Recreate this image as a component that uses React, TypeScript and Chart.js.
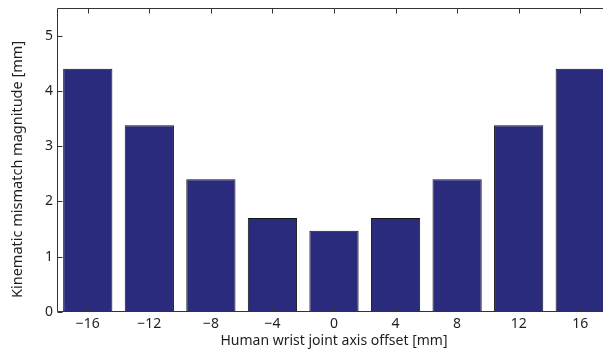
import React, { useEffect, useRef } from "react";
import { Chart, registerables } from "chart.js";

Chart.register(...registerables);

const offsets = [-16, -12, -8, -4, 0, 4, 8, 12, 16];
const mismatch = [4.4, 3.38, 2.4, 1.7, 1.47, 1.7, 2.4, 3.38, 4.4];
const xTicks = [-16, -12, -8, -4, 0, 4, 8, 12, 16];
const yTicks = [0, 1, 2, 3, 4, 5];
const xLabel = "Human wrist joint axis offset [mm]";
const yLabel = "Kinematic mismatch magnitude [mm]";

const FONT = "Noto Sans";
const AXIS_COLOR = "#333333";
const TEXT_COLOR = "#1e1e1e";

const fmt = (v: number) => (v < 0 ? "\u2212" + Math.abs(v) : String(v));

const boxPlugin = {
  id: "matlabBox",
  afterDraw(chart: any) {
    const { ctx, chartArea } = chart;
    const xs = chart.scales.x;
    const ys = chart.scales.y;
    const { left, right, top, bottom } = chartArea;
    const L = Math.round(left) + 0.5;
    const T = Math.round(top) + 0.5;
    const B = Math.round(bottom) - 0.5;
    const R = Math.round(right) + 0.5;
    ctx.save();
    ctx.strokeStyle = AXIS_COLOR;
    ctx.lineWidth = 1;
    ctx.beginPath();
    ctx.moveTo(R, T);
    ctx.lineTo(L, T);
    ctx.lineTo(L, B);
    ctx.lineTo(R, B);
    const tl = 5;
    xTicks.forEach((v) => {
      const px = Math.round(xs.getPixelForValue(v)) + 0.5;
      ctx.moveTo(px, B);
      ctx.lineTo(px, B - tl);
      ctx.moveTo(px, T);
      ctx.lineTo(px, T + tl);
    });
    yTicks.forEach((v) => {
      const py = Math.round(ys.getPixelForValue(v)) + 0.5;
      ctx.moveTo(L, py);
      ctx.lineTo(L + tl, py);
    });
    ctx.stroke();
    ctx.restore();
  },
};

export default function App() {
  const ref = useRef<HTMLCanvasElement | null>(null);

  useEffect(() => {
    if (!ref.current) return;
    document.documentElement.style.overflow = "hidden";
    document.body.style.margin = "0";
    document.body.style.overflow = "hidden";
    const chart = new Chart(ref.current, {
      type: "bar",
      data: {
        datasets: [
          {
            data: offsets.map((x, i) => ({ x, y: mismatch[i] })),
            backgroundColor: "#2b2b7d",
            borderColor: "#151515",
            borderWidth: 1,
            barPercentage: 1,
            categoryPercentage: 0.8,
          } as any,
        ],
      },
      options: {
        responsive: false,
        animation: false,
        layout: { padding: { top: 8, right: 14, left: 0, bottom: 0 } },
        plugins: { legend: { display: false }, tooltip: { enabled: false } },
        scales: {
          x: {
            type: "linear",
            min: -18,
            max: 18,
            offset: false,
            grid: { display: false, drawTicks: false },
            border: { display: false },
            afterBuildTicks: (s: any) => {
              s.ticks = xTicks.map((v) => ({ value: v }));
            },
            afterFit: (s: any) => {
              s.height = 38;
              s.paddingLeft = 0;
              s.paddingRight = 0;
            },
            ticks: {
              padding: 4,
              color: TEXT_COLOR,
              font: { family: FONT, size: 14 },
              maxRotation: 0,
              callback: (v: any) => fmt(Number(v)),
            },
            title: {
              display: true,
              text: xLabel,
              color: TEXT_COLOR,
              font: { family: FONT, size: 14 },
              padding: { top: 0, bottom: 1 },
            },
          },
          y: {
            type: "linear",
            min: 0,
            max: 5.5,
            grid: { display: false, drawTicks: false },
            border: { display: false },
            afterBuildTicks: (s: any) => {
              s.ticks = yTicks.map((v) => ({ value: v }));
            },
            afterFit: (s: any) => {
              s.width = 57;
              s.paddingTop = 0;
              s.paddingBottom = 0;
            },
            ticks: {
              padding: 4,
              color: TEXT_COLOR,
              font: { family: FONT, size: 14 },
              callback: (v: any) => fmt(Number(v)),
            },
            title: {
              display: true,
              text: yLabel + "\u00a0\u00a0\u00a0\u00a0\u00a0",
              color: TEXT_COLOR,
              font: { family: FONT, size: 14.5 },
              padding: { top: 9, bottom: 0 },
            },
          },
        },
      },
      plugins: [boxPlugin],
    });
    return () => chart.destroy();
  }, []);

  return (
    <div
      style={{
        position: "fixed",
        left: 0,
        top: 0,
        width: 640,
        height: 350,
        overflow: "hidden",
        background: "#fff",
      }}
    >
      <canvas ref={ref} width={625} height={350} style={{ display: "block" }} />
    </div>
  );
}
